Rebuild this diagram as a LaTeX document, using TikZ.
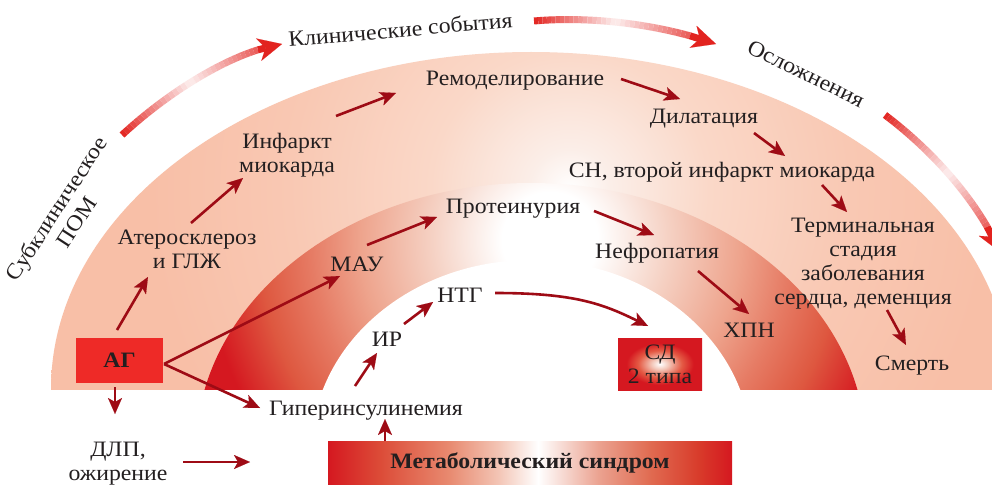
\documentclass[tikz,border=0pt]{standalone}
\usepackage{fontspec}
\setmainfont{Liberation Serif}[FakeStretch=1.08]
\usetikzlibrary{arrows.meta,calc}
\definecolor{txt}{HTML}{231F20}
\definecolor{arr}{HTML}{9E0B15}
\definecolor{bigred}{HTML}{E2231F}
\definecolor{agred}{HTML}{EE2A27}
\definecolor{deepred}{HTML}{D51820}
\definecolor{o1}{HTML}{FBEEE8}
\definecolor{o2}{HTML}{FAD8C8}
\definecolor{o3}{HTML}{F9C8B3}
\definecolor{o4}{HTML}{F8BFA7}
\definecolor{i1}{HTML}{F5D0C2}
\definecolor{i2}{HTML}{EEA48D}
\definecolor{i3}{HTML}{E67B64}
\definecolor{i4}{HTML}{DE5840}
\definecolor{m1}{HTML}{DC4C38}
\definecolor{m2}{HTML}{E88A70}
\definecolor{m3}{HTML}{F3C4B4}
\definecolor{m4}{HTML}{EBA290}
\definecolor{m5}{HTML}{E06A50}
\definecolor{m6}{HTML}{D83A2A}
\definecolor{sd1}{HTML}{F3C8BA}
\definecolor{sd2}{HTML}{E45A44}
\pgfdeclareradialshading{outershade}{\pgfpoint{0bp}{0bp}}{color(0bp)=(white); color(1.7bp)=(o1); color(5.8bp)=(o2); color(11.7bp)=(o3); color(17.5bp)=(o4); color(40bp)=(o4)}
\pgfdeclareradialshading{innershade}{\pgfpoint{0bp}{0bp}}{color(0bp)=(white); color(2bp)=(white); color(5bp)=(i1); color(7.9bp)=(i2); color(10bp)=(i3); color(12.1bp)=(i4); color(14.4bp)=(deepred); color(40bp)=(deepred)}
\pgfdeclarehorizontalshading{metshade}{100bp}{color(0bp)=(deepred); color(25bp)=(deepred); color(31.5bp)=(m1); color(40bp)=(m2); color(46bp)=(m3); color(51bp)=(white); color(58.5bp)=(m4); color(65bp)=(m5); color(71bp)=(m6); color(75bp)=(deepred); color(100bp)=(deepred)}
\pgfdeclareradialshading{sdshade}{\pgfpoint{0bp}{0bp}}{color(0bp)=(white); color(5bp)=(sd1); color(13bp)=(sd2); color(20bp)=(deepred); color(50bp)=(deepred)}
\newcommand\myconn[4]{\draw[arw] ($(#1)+(#2)$) -- ($(#3)+(#4)$);}
\newcommand\gradarrow[5]{%
  \path (#1) .. controls (#2) and (#3) .. (#4)
    \foreach \k [evaluate=\k as \tp using \k/40] in {0,...,40}{coordinate[pos=\tp] (gp\k)};
  \foreach \k [evaluate=\k as \kk using int(\k+1),
               evaluate=\k as \cc using {8+92*abs((\k+0.5)/40-#5)/((((\k+0.5)/40)<#5)?#5:(1-#5))}] in {0,...,33}
    {\draw[line width=7pt, bigred!\cc!white] (gp\k) -- (gp\kk);}
  \draw[line width=7pt, bigred, -{Stealth[length=24pt,width=23pt,inset=7pt,line width=0.1pt]}] (gp34) -- (gp40);
}
\begin{document}
\begin{tikzpicture}[x=1pt,y=-1pt,
  lbl/.style={text=txt, inner sep=0pt, font=\fontsize{22}{24}\selectfont, align=center},
  arw/.style={draw=arr, line width=2.6pt, -{Stealth[length=16pt,width=14pt,inset=4pt,line width=0.1pt]}},
  boxlbl/.style={text=txt, inner sep=0pt, font=\fontsize{22}{24}\selectfont, align=center}]
\useasboundingbox (0,0) rectangle (992,484);
\fill[white] (0,0) rectangle (992,484);
% bands
\begin{scope}
  \clip (0,0) rectangle (992,389);
  \begin{scope}
    \clip (531,389) ellipse [x radius=480, y radius=337];
    \shade[shading=outershade] (-30,-410) rectangle (1170,790);
  \end{scope}
  \begin{scope}
    \clip (531,450) ellipse [x radius=335, y radius=267];
    \shade[shading=innershade] (-50,-360) rectangle (1150,840);
  \end{scope}
  \fill[white] (531.5,450) ellipse [x radius=220, y radius=190];
\end{scope}
% big gradient arrows
\coordinate (g1s) at (122,135); \coordinate (g1e) at (282,44);
\coordinate (g2s) at (534,21);  \coordinate (g2e) at (716,44);
\coordinate (g3s) at (885,115); \coordinate (g3e) at (1000,252);
\gradarrow{g1s}{165,95}{230,52}{g1e}{0.45}
\gradarrow{g2s}{590,16}{660,24}{g2e}{0.45}
\gradarrow{g3s}{925,145}{975,195}{g3e}{0.5}
% labels
\node[lbl, anchor=base, rotate=5] (klin) at (401,37) {Клинические события};
\node[lbl, anchor=base, rotate=-26] (osl) at (803,80) {Осложнения};
\node[lbl, rotate=57] (sub) at (66,215) {Субклиническое\\ПОМ};
\node[lbl, anchor=base] (rem) at (515,86) {Ремоделирование};
\node[lbl, anchor=base] (dil) at (704,123) {Дилатация};
\node[lbl, anchor=base] (sn) at (722,177) {СН, второй инфаркт миокарда};
\node[lbl, anchor=base] (term) at (863,304) {Терминальная\\стадия\\заболевания\\сердца, деменция};
\node[lbl, anchor=base] (death) at (912,370) {Смерть};
\node[lbl, anchor=base] (inf) at (287,172) {Инфаркт\\миокарда};
\node[lbl, anchor=base] (ath) at (187,268) {Атеросклероз\\и ГЛЖ};
\node[lbl, anchor=base] (prot) at (513,213) {Протеинурия};
\node[lbl, anchor=base] (mau) at (357,271) {МАУ};
\node[lbl, anchor=base] (nef) at (657,258) {Нефропатия};
\node[lbl, anchor=base] (hpn) at (749,337) {ХПН};
\node[lbl, anchor=base] (ntg) at (460,302) {НТГ};
\node[lbl, anchor=base] (ir) at (387,346) {ИР};
\node[lbl, anchor=base] (gip) at (366,415) {Гиперинсулинемия};
\node[lbl, anchor=base] (dlp) at (118,480) {ДЛП,\\ожирение};
\node[boxlbl, fill=agred, minimum width=87pt, minimum height=45pt] (ag) at (119.5,360.5) {\bfseries АГ};
\node[boxlbl, shade, shading=sdshade, minimum width=84pt, minimum height=52pt] (sd) at (660,364) {СД\\2 типа};
\node[boxlbl, shade, shading=metshade, minimum width=404pt, minimum height=43pt] (met) at (530,462.5) {\bfseries Метаболический синдром};
% connectors
\myconn{ag.center}{-2.5,-30.5}{ath.base}{-39,9}
\myconn{ath.base}{4,-45}{inf.base}{-44,6}
\myconn{inf.base}{49,-56}{rem.base}{-119,7}
\myconn{rem.base}{106,-7}{dil.base}{-24,-24}
\myconn{dil.base}{50,10}{sn.base}{63,-21}
\myconn{sn.base}{100,8}{term.base}{-16,-92}
\myconn{term.base}{24,6}{death.base}{-6,-25}
\myconn{ag.center}{44.5,3.5}{mau.base}{-17,5}
\myconn{ag.center}{44.5,3.5}{gip.base}{-106,-7}
\myconn{ag.center}{-4.5,26.5}{dlp.base}{-3,-66}
\myconn{dlp.base}{65,-18}{met.center}{-280,-0.5}
\myconn{met.center}{-145,-21.5}{gip.base}{19,4}
\myconn{gip.base}{-11,-29}{ir.base}{-10,7}
\myconn{ir.base}{17,-22}{ntg.base}{-27,0}
\myconn{mau.base}{10,-26}{prot.base}{-76,4}
\myconn{prot.base}{81,-2}{nef.base}{-3,-23}
\myconn{nef.base}{41,13}{hpn.base}{0,-23}
\draw[arw] ($(ntg.base)+(35,-9)$) .. controls +(80,0) and +(-45,-22) .. ($(sd.center)+(-12,-38)$);
\end{tikzpicture}
\end{document}
